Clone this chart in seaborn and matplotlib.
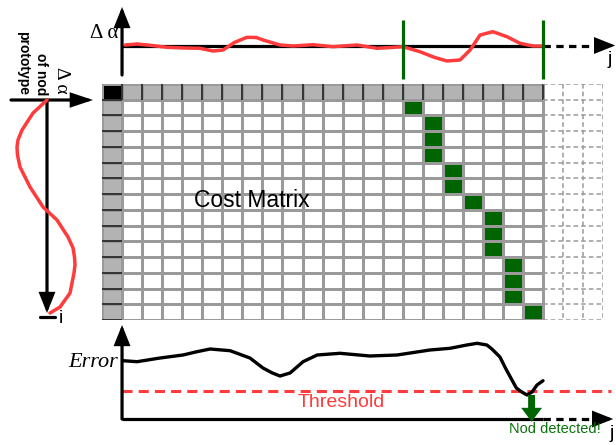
import matplotlib
matplotlib.use("Agg")
import numpy as np
import pandas as pd
import matplotlib.pyplot as plt
import seaborn as sns
from matplotlib.colors import ListedColormap

sns.set_style("white")
plt.rcParams["font.family"] = ["Liberation Sans", "DejaVu Sans"]
plt.rcParams["text.color"] = "black"

# ---------------------------------------------------------------- data
# cost matrix: 15 rows (header + 14 prototype samples) x 22 columns (header + 21 stream samples)
n_rows, n_cols = 15, 22
n_future_cols = 3                      # not-yet-observed part of the stream
path_rows = [1, 2, 3, 4, 5, 6, 7, 8, 9, 10, 11, 12, 13, 14]
path_cols = [15, 16, 16, 16, 17, 17, 18, 19, 19, 19, 20, 20, 20, 21]

# incoming stream: delta alpha over j
stream_j = [0.15, 0.75, 1.5, 2.24, 3.1, 3.89, 4.54, 5.04, 5.6, 6.23, 6.7, 7.03, 7.88,
            8.53, 9.53, 10.52, 11.72, 12.72, 13.4, 14.01, 14.86, 15.6, 16.21, 16.86,
            17.36, 17.86, 18.5, 19.2, 19.85, 20.5, 21.0]
stream_da = [0.05, 0.15, 0.0, -0.18, -0.25, -0.28, -0.55, -0.45, 0.3, 0.82, 0.8, 0.55,
             0.05, -0.05, 0.08, -0.12, 0.05, -0.28, -0.2, -0.12, -0.62, -1.2, -1.55,
             -1.45, -0.45, 1.05, 1.38, 0.88, 0.22, -0.05, -0.05]

# nod prototype: delta alpha over i
proto_i = [0.0, 0.83, 1.91, 2.54, 2.99, 3.5, 4.26, 5.53, 6.8, 7.63, 8.71, 9.4, 9.98,
           10.49, 11.0, 12.27, 13.16, 13.54]
proto_da = [0.0, -1.4, -2.5, -2.9, -3.0, -2.95, -2.7, -1.7, -0.4, 1.0, 2.1, 2.6, 2.75,
            2.8, 2.7, 2.3, 1.3, 0.3]

# matching error over j
err_j = [0.05, 0.75, 1.9, 3.04, 3.74, 4.39, 5.39, 6.38, 7.03, 7.5, 7.88, 8.38, 9.03,
         9.73, 10.87, 12.37, 13.72, 15.36, 16.36, 17.2, 17.71, 18.2, 18.45, 18.85,
         19.15, 19.45, 19.67, 19.9, 20.2, 20.45, 20.7, 21.0]
err_val = [5.83, 5.73, 6.1, 6.4, 6.73, 7.0, 6.83, 6.1, 5.1, 4.6, 4.3, 4.6, 5.73, 6.4,
           6.57, 6.3, 6.4, 6.9, 7.07, 7.4, 7.57, 7.4, 7.0, 6.2, 5.0, 3.9, 3.1, 2.75,
           2.4, 2.7, 3.4, 3.83]
threshold = 2.83
detect_j = 20.43

# ---------------------------------------------------------------- style
RED = "#ff3b3b"
GREEN = "#006400"
TEXT_GREEN = "#0b730b"
AX_LW = 2.3

W, H = 616, 445
fig = plt.figure(figsize=(W / 100, H / 100), dpi=100)


def panel(box, xlim, ylim):
    left, top, right, bottom = box
    ax = fig.add_axes([left / W, 1 - bottom / H, (right - left) / W, (bottom - top) / H])
    ax.set_xlim(*xlim)
    ax.set_ylim(*ylim)
    ax.axis("off")
    return ax


def arrow(ax, start, tip, color="black", lw=AX_LW, hl=0.55, hw=0.22, scale=20):
    ax.annotate("", xy=tip, xytext=start,
                arrowprops=dict(arrowstyle=f"-|>,head_length={hl},head_width={hw}",
                                color=color, lw=lw, shrinkA=0, shrinkB=0,
                                mutation_scale=scale, joinstyle="miter"),
                annotation_clip=False)


# ---------------------------------------------------------------- cost matrix
ax_m = panel((102, 84, 102 + 20.05 * (n_cols + n_future_cols), 320), (0, 1), (1, 0))
cells = np.zeros((n_rows, n_cols))
cells[0, :] = 1
cells[:, 0] = 1
cells[0, 0] = 2
for r, c in zip(path_rows, path_cols):
    cells[r, c] = 3
sns.heatmap(pd.DataFrame(cells), ax=ax_m, cbar=False,
            cmap=ListedColormap(["white", "#b3b3b3", "black", GREEN]),
            vmin=-0.5, vmax=3.5, linewidths=1.0, linecolor="#9a9a9a")
ax_m.set_xlim(0, n_cols + n_future_cols)
ax_m.set_ylim(n_rows, 0)
ax_m.axis("off")
# darker separators inside the header row / column
ax_m.vlines(np.arange(1, n_cols + 1), 0, 1, color="#222222", lw=1.2)
ax_m.hlines(np.arange(1, n_rows + 1), 0, 1, color="#222222", lw=1.2)
# future stream columns, dashed
ext_kw = dict(color="#9a9a9a", lw=1.1, linestyles=(0, (3, 2)))
ax_m.hlines(np.arange(0, n_rows + 1), n_cols, n_cols + n_future_cols, **ext_kw)
ax_m.vlines(np.arange(n_cols + 1, n_cols + n_future_cols + 1), 0, n_rows, **ext_kw)
ax_m.text(7.47, 7.42, "Cost Matrix", fontsize=16.5, ha="center", va="center",
          color="black", zorder=10)

# ---------------------------------------------------------------- stream (top)
ax_t = panel((102, 0, 616, 84), (-1, 24.64), (-3.85, 4.55))
ax_t.plot([0, 21], [0, 0], color="black", lw=AX_LW, zorder=2, solid_capstyle="butt")
ax_t.plot([21, 24.1], [0, 0], color="black", lw=AX_LW, zorder=2,
          dashes=(2.3, 1.7))
arrow(ax_t, (24.0, 0), (24.6, 0))
arrow(ax_t, (0, -2.95), (0, 3.85))
sns.lineplot(x=stream_j, y=stream_da, ax=ax_t, color=RED, lw=2.5, sort=False,
             estimator=None, zorder=3, solid_joinstyle="round", solid_capstyle="round")
seg_start, seg_end = path_cols[0] - 1, path_cols[-1]
ax_t.vlines([seg_start, seg_end], -3.35, 2.55, color=GREEN, lw=2.3, zorder=4)
ax_t.text(-0.2, 1.15, "Δ α", family="Liberation Serif", fontsize=15,
          ha="right", va="center")
ax_t.text(24.34, -1.45, "j", fontsize=14, ha="center", va="center")
ax_t.set_xlabel("")
ax_t.set_ylabel("")

# ---------------------------------------------------------------- prototype (left)
ax_l = panel((0, 84, 102, 330), (-4.7, 5.5), (14.62, -1.017))
arrow(ax_l, (-3.6, 0), (4.6, 0), hl=0.6, hw=0.2)
arrow(ax_l, (0, 0), (0, 13.54))
ax_l.plot([-0.75, 0.8], [13.8, 13.8], color="black", lw=AX_LW)
sns.lineplot(x=proto_da, y=proto_i, ax=ax_l, color=RED, lw=2.5, sort=False,
             estimator=None, zorder=3, solid_joinstyle="round", solid_capstyle="round")
ax_l.text(1.45, -0.4, "Δ α", family="Liberation Serif", fontsize=14,
          rotation=-90, ha="center", va="bottom")
ax_l.text(-0.6, -0.3, "of nod", fontsize=10, fontweight="bold",
          rotation=-90, ha="center", va="bottom")
ax_l.text(-2.4, -0.3, "prototype", fontsize=10, fontweight="bold",
          rotation=-90, ha="center", va="bottom")
ax_l.text(1.4, 13.9, "i", fontsize=14, ha="center", va="center")
ax_l.set_xlabel("")
ax_l.set_ylabel("")

# ---------------------------------------------------------------- error (bottom)
ax_b = panel((102, 320, 616, 445), (-1, 24.64), (-2.6, 9.9))
ax_b.plot([0, 21], [0, 0], color="black", lw=AX_LW, zorder=2, solid_capstyle="butt")
ax_b.plot([21, 24.0], [0, 0], color="black", lw=AX_LW, zorder=2, dashes=(2.3, 1.7))
arrow(ax_b, (23.9, 0), (24.5, 0))
arrow(ax_b, (0, 0), (0, 9.4))
sns.lineplot(x=err_j, y=err_val, ax=ax_b, color="black", lw=2.4, sort=False,
             estimator=None, zorder=3, solid_joinstyle="round", solid_capstyle="round")
ax_b.plot([0, 24.4], [threshold, threshold], color=RED, lw=2.2, dashes=(3.3, 2),
          zorder=2)
ax_b.annotate("", xy=(detect_j, -0.27), xytext=(detect_j, 2.4),
              arrowprops=dict(arrowstyle="simple,head_length=0.5,head_width=0.75,tail_width=0.25",
                              color=GREEN, lw=0, shrinkA=0, shrinkB=0, mutation_scale=20),
              annotation_clip=False, zorder=5)
ax_b.text(10.92, 1.65, "Threshold", color=RED, fontsize=14, ha="center", va="center")
ax_b.text(21.6, -1.0, "Nod detected!", color=TEXT_GREEN, fontsize=10.5,
          ha="center", va="center")
ax_b.text(-0.2, 5.63, "Error", family="Liberation Serif", style="italic",
          fontsize=16, ha="right", va="center")
ax_b.text(24.44, -1.4, "j", fontsize=14, ha="center", va="center")
ax_b.set_xlabel("")
ax_b.set_ylabel("")

fig.savefig("out.png", dpi=100)
